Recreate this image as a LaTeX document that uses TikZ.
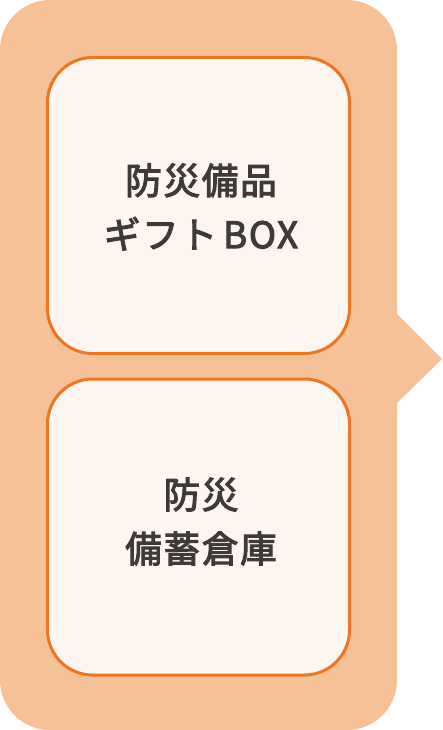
\documentclass[tikz,border=0pt]{standalone}
\usepackage{fontspec}
\newfontfamily\cjk[UprightFeatures={FakeBold=3},LetterSpace=5]{Noto Sans CJK JP}
\definecolor{bgc}{HTML}{F7C198}
\definecolor{edgec}{HTML}{EE7623}
\definecolor{boxc}{HTML}{FDF5F0}
\definecolor{txtc}{HTML}{3E3A39}
\tikzset{
  panel/.style={fill=bgc, draw=none},
  itembox/.style={draw=edgec, line width=3pt, fill=boxc, rounded corners=45pt,
    minimum width=302pt, minimum height=296pt, inner sep=0pt},
  itemtext/.style={text=txtc, align=center, font=\cjk\fontsize{36.5}{54}\selectfont, inner sep=0pt}
}
\begin{document}
\begin{tikzpicture}[x=1pt,y=-1pt]
\useasboundingbox (0,0) rectangle (442,730);
\fill[panel, rounded corners=50pt] (0,0) rectangle (397,730);
\fill[panel] (396,313) -- (442,359) -- (396,404) -- cycle;
\node[itembox] (box1) at (198.5,205.5) {};
\node[itembox] (box2) at (198.5,527) {};
\node[itemtext] (t1) at (201,207) {防災備品\\ギフト\,BOX};
\node[itemtext] (t2) at (201,521.5) {防災\\備蓄倉庫};
\end{tikzpicture}
\end{document}
